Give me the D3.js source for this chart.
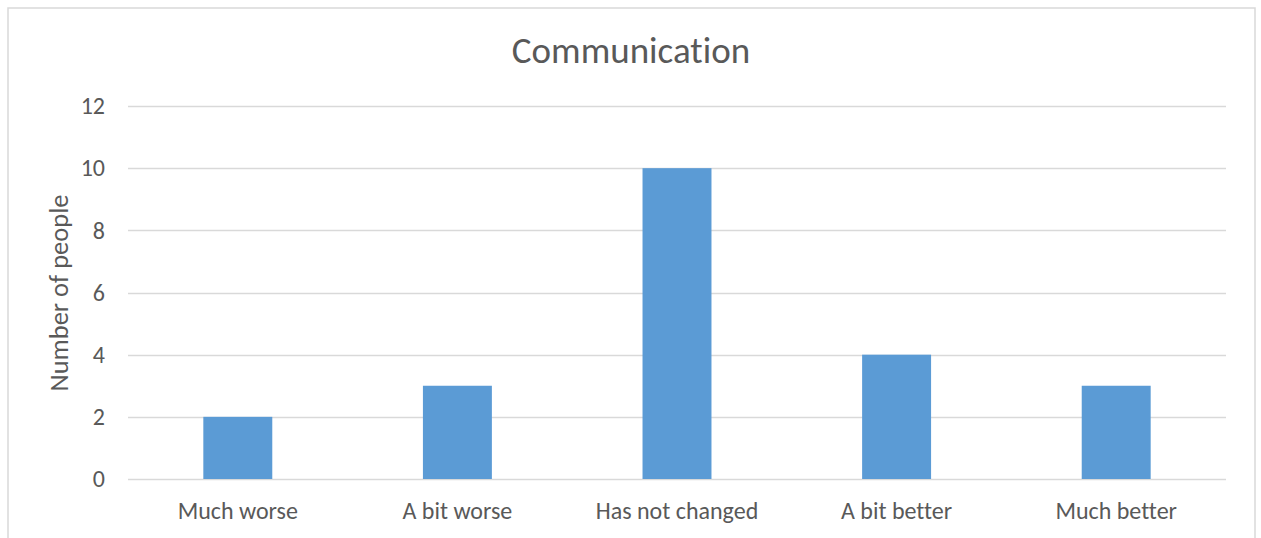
<!DOCTYPE html>
<html>
<head>
<meta charset="utf-8">
<script src="https://cdn.jsdelivr.net/npm/d3@7"></script>
<style>
  html, body { margin: 0; padding: 0; background: #fff; }
  svg { display: block; }
  text { font-family: Carlito, Calibri, "Open Sans", sans-serif; fill: #595959; font-variant-ligatures: none; }
</style>
</head>
<body>
<svg id="chart" width="1261" height="538"></svg>
<script>
// Survey responses: how communication has changed
const categories = ["Much worse", "A bit worse", "Has not changed", "A bit better", "Much better"];
const counts = [2, 3, 10, 4, 3];
const yTicks = [0, 2, 4, 6, 8, 10, 12];
const chartTitle = "Communication";
const yTitle = "Number of people";

const FONT = "Carlito, Calibri, 'Open Sans', sans-serif";
const svg = d3.select("#chart");

// chart frame (open at the bottom edge)
svg.append("rect")
  .attr("x", 8).attr("y", 8)
  .attr("width", 1247).attr("height", 560)
  .attr("fill", "#fff")
  .attr("stroke", "#d9d9d9").attr("stroke-width", 1.5);

const plot = { left: 128, right: 1226, top: 106, bottom: 479 };

const x = d3.scaleBand()
  .domain(categories)
  .range([plot.left, plot.right])
  .paddingInner(0.686)
  .paddingOuter(0.343);

const y = d3.scaleLinear()
  .domain([0, 12])
  .range([plot.bottom, plot.top]);

// horizontal gridlines
svg.append("g")
  .selectAll("line")
  .data(yTicks)
  .join("line")
  .attr("x1", plot.left).attr("x2", plot.right)
  .attr("y1", d => Math.round(y(d)) + 0.5)
  .attr("y2", d => Math.round(y(d)) + 0.5)
  .attr("stroke", "#d9d9d9").attr("stroke-width", 1.5);

// bars
svg.append("g")
  .selectAll("rect")
  .data(counts)
  .join("rect")
  .attr("x", (d, i) => x(categories[i]))
  .attr("width", x.bandwidth())
  .attr("y", d => y(d))
  .attr("height", d => y(0) - y(d))
  .attr("fill", "#5b9bd5");

// y axis labels
const yAxis = d3.axisLeft(y).tickValues(yTicks).tickSize(0).tickPadding(23);
const yg = svg.append("g").attr("transform", `translate(${plot.left},0)`).call(yAxis);
yg.select(".domain").remove();
yg.selectAll("text")
  .style("font-family", FONT)
  .style("font-size", "24px").attr("fill", "#595959");

// x axis labels
const xAxis = d3.axisBottom(x).tickSize(0).tickPadding(23);
const xg = svg.append("g").attr("transform", `translate(0,${plot.bottom})`).call(xAxis);
xg.select(".domain").remove();
xg.selectAll("text")
  .style("font-family", FONT)
  .style("font-size", "24px").attr("fill", "#595959");

// title
svg.append("text")
  .attr("x", 631).attr("y", 63)
  .attr("text-anchor", "middle")
  .style("font-size", "37px")
  .text(chartTitle);

// y axis title
svg.append("text")
  .attr("transform", "translate(68,293) rotate(-90)")
  .attr("text-anchor", "middle")
  .style("font-size", "26.5px")
  .text(yTitle);
</script>
</body>
</html>
